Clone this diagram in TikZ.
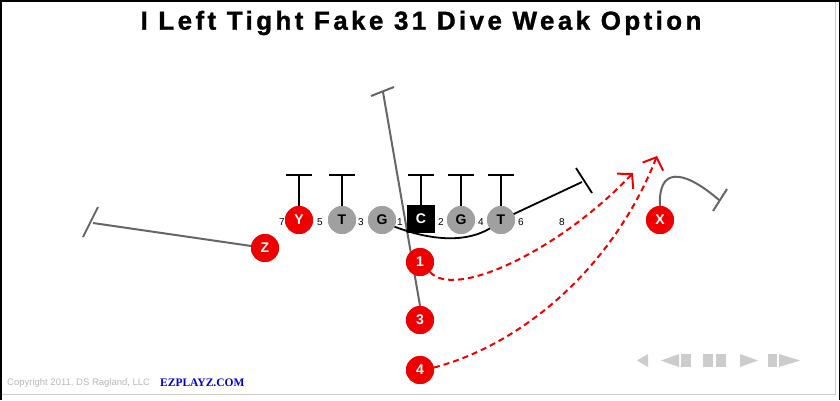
\documentclass[tikz,border=0pt]{standalone}
\usepackage{fontspec}
\setmainfont{Liberation Sans}
\newfontfamily\titlefont[LetterSpace=13,FakeBold=1.2]{Liberation Sans}
\newfontfamily\brandfont{Liberation Serif}
\usetikzlibrary{arrows.meta}
\definecolor{pred}{HTML}{EE0000}
\definecolor{pgray}{HTML}{A0A0A0}
\definecolor{rgray}{HTML}{666666}
\definecolor{ctrlgray}{HTML}{CCCCCC}
\definecolor{copygray}{HTML}{B8B8B8}
\definecolor{brandblue}{HTML}{0000CC}
\begin{document}
\begin{tikzpicture}[x=1pt,y=-1pt,
  player/.style={circle,minimum size=28pt,inner sep=0pt,font=\bfseries\fontsize{14}{14}\selectfont},
  offense/.style={player,fill=pred,text=white},
  lineman/.style={player,fill=pgray,text=black},
  center/.style={rectangle,minimum size=28pt,inner sep=0pt,fill=black,text=white,font=\bfseries\fontsize{14}{14}\selectfont},
  gap/.style={font=\fontsize{10}{10}\selectfont,inner sep=0pt},
  blockline/.style={draw=black,line width=2.4pt},
  graypath/.style={draw=rgray,line width=2pt},
  divepath/.style={draw=black,line width=1.8pt},
  passroute/.style={draw=pred,line width=2pt,dash pattern=on 6pt off 4pt,-{Straight Barb[length=10pt,width=22pt,line width=2pt]}},
  ctrl/.style={fill=ctrlgray,draw=none}]
\useasboundingbox (0,0) rectangle (840,400);
\fill[white] (0,0) rectangle (840,400);
% frame
\draw[black,line width=3pt] (0,400) -- (0,0) -- (840,0) -- (840,400);
\draw[ctrlgray,line width=1pt] (835,2) -- (835,394) -- (2,394);
% title
\node[font=\titlefont\bfseries\fontsize{26}{26}\selectfont,inner sep=0pt] (title) at (421,23) {I Left Tight Fake 31 Dive Weak Option};

% free ends of routes
\coordinate (zend) at (93,223);
\coordinate (zb1) at (83,237);
\coordinate (zb2) at (98,207);
\coordinate (fbend) at (383,92);
\coordinate (fb1) at (371,96);
\coordinate (fb2) at (394,87);
\coordinate (dvend) at (582,182);
\coordinate (dv1) at (576,168);
\coordinate (dv2) at (592,193);
\coordinate (xend) at (719,200);
\coordinate (xb1) at (727,189);
\coordinate (xb2) at (713,211);
\coordinate (tip1) at (633,173);
\coordinate (tip2) at (657,156);

% players (positions)
\node[offense] (Y) at (299,220) {Y};
\node[lineman] (LT) at (342,220) {T};
\node[lineman] (LG) at (382,220) {G};
\node[center] (C) at (421,219) {C};
\node[lineman] (RG) at (461,220) {G};
\node[lineman] (RT) at (501,220) {T};
\node[offense] (Z) at (265,248) {Z};
\node[offense] (n1) at (420,262) {1};
\node[offense] (n3) at (420,320) {3};
\node[offense] (n4) at (420,370) {4};
\node[offense] (X) at (660,220) {X};

% gray routes
\draw[graypath] (Z) -- (zend);
\draw[graypath] (zb1) -- (zb2);
\draw[graypath] (n3.north) -- (fbend);
\draw[graypath] (fb1) -- (fb2);
\draw[graypath] (X.north) .. controls (658,168) and (682,168) .. (xend);
\draw[graypath] (xb1) -- (xb2);
% dive path
\draw[divepath] (LG.-28) .. controls (440,244) and (478,242) .. (RT.center) -- (dvend);
\draw[divepath] (dv1) -- (dv2);
% pass routes
\draw[passroute] (n1.-45) .. controls (455,300) and (560,250) .. (tip1);
\draw[passroute] (n4.10) .. controls (520,345) and (612,270) .. (tip2);

% redraw players on top of routes
\foreach \s/\x/\y/\t in {offense/299/220/Y, lineman/342/220/T, lineman/382/220/G, lineman/461/220/G, lineman/501/220/T, offense/265/248/Z, offense/420/262/1, offense/420/320/3, offense/420/370/4, offense/660/220/X}
  \node[\s] at (\x,\y) {\t};
\node[center] at (421,219) {C};

% blocks
\foreach \p/\x in {Y/299, LT/342, C/421, RG/461, RT/501}{
  \coordinate (\p b) at (\x,175);
  \draw[blockline] (\p.north) -- (\p b);
  \draw[blockline] ([xshift=-13pt]\p b) -- ([xshift=13pt]\p b);
}

% gap numbers
\foreach \n/\x in {7/282, 5/320, 3/361, 1/400, 2/441, 4/481, 6/521, 8/562}
  \node[gap] (gap\n) at (\x,222) {\n};

% footer
\node[anchor=west,inner sep=0pt,text=copygray,font=\fontsize{9.5}{10}\selectfont] (copy) at (7,383) {Copyright 2011, DS Ragland, LLC};
\node[anchor=west,inner sep=0pt,text=brandblue,font=\brandfont\bfseries\fontsize{11.5}{12}\selectfont] (brand) at (160,383) {EZPLAYZ.COM};

% playback controls
\fill[ctrl] (637,360.5) -- (648,354) -- (648,367) -- cycle;
\fill[ctrl] (661,360.5) -- (679,354) -- (679,367) -- cycle;
\fill[ctrl] (681,354) rectangle (691,367);
\fill[ctrl] (703,354) rectangle (713,367);
\fill[ctrl] (716,354) rectangle (726,367);
\fill[ctrl] (740,354) -- (758,360.5) -- (740,367) -- cycle;
\fill[ctrl] (768,354) rectangle (777,367);
\fill[ctrl] (779,354) -- (800,360.5) -- (779,367) -- cycle;
\end{tikzpicture}
\end{document}
